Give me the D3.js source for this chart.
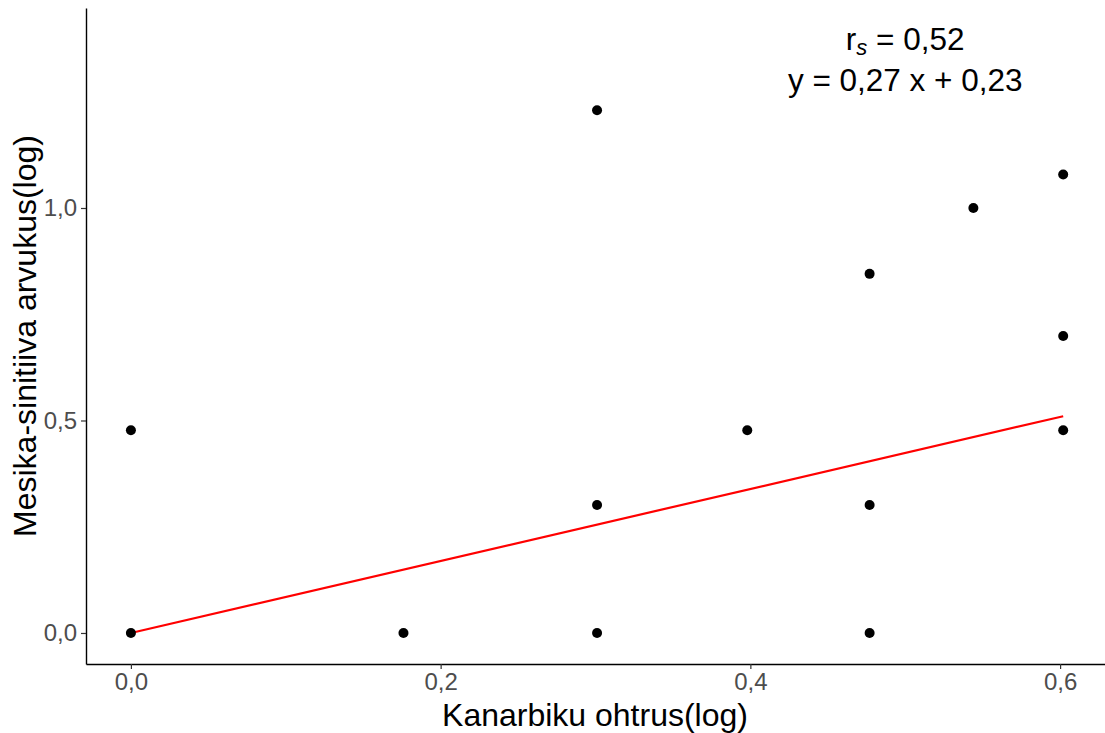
<!DOCTYPE html>
<html>
<head>
<meta charset="utf-8">
<script src="https://cdn.jsdelivr.net/npm/d3@7"></script>
<style>
  body { margin: 0; background: #fff; }
  svg { display: block; font-family: "Liberation Sans", Arial, sans-serif; }
</style>
</head>
<body>
<svg id="chart" width="1105" height="733"></svg>
<script>
// data: log-transformed values
var kanarbik = [0, 0, 0.176, 0.301, 0.301, 0.301, 0.398, 0.477, 0.477, 0.477, 0.544, 0.602, 0.602, 0.602]
var sinitiib = [0, 0.477, 0, 0, 0.301, 1.23, 0.477, 0, 0.301, 0.845, 1.0, 0.477, 0.699, 1.079]

// fitted line as drawn (ends)
var fitX = [0, 0.602]
var fitY = [0, 0.51]

var xTicks = [0, 0.2, 0.4, 0.6]
var yTicks = [0, 0.5, 1.0]

var fmt = function(d) { return d3.format(".1f")(d).replace(".", ",") }

var svg = d3.select("#chart")

var x = d3.scaleLinear().domain([-0.029, 0.629]).range([86, 1105])
var y = d3.scaleLinear().domain([-0.073, 1.4706]).range([664, 8])

// axes
var xAxis = svg.append("g").attr("transform", "translate(0,664)")
  .call(d3.axisBottom(x).tickValues(xTicks).tickFormat(fmt).tickSize(5).tickPadding(4).tickSizeOuter(0))
var yAxis = svg.append("g").attr("transform", "translate(86,0)")
  .call(d3.axisLeft(y).tickValues(yTicks).tickFormat(fmt).tickSize(5).tickPadding(4).tickSizeOuter(0))

svg.selectAll(".domain").attr("stroke", "#000").attr("stroke-width", 1.4)
svg.selectAll(".tick line").attr("stroke", "#333").attr("stroke-width", 1.2)
svg.selectAll(".tick text").attr("fill", "#4d4d4d").style("font-size", "24px")
  .style("font-family", "Liberation Sans, Arial, sans-serif")
xAxis.selectAll(".tick text").attr("dy", "0.71em")

// regression line
svg.append("line")
  .attr("x1", x(fitX[0])).attr("y1", y(fitY[0]))
  .attr("x2", x(fitX[1])).attr("y2", y(fitY[1]))
  .attr("stroke", "red").attr("stroke-width", 2.2)

// points
svg.selectAll("circle.pt").data(kanarbik).enter().append("circle")
  .attr("class", "pt")
  .attr("cx", function(d) { return x(d) })
  .attr("cy", function(d, i) { return y(sinitiib[i]) })
  .attr("r", 5)
  .style("fill", "black")

// axis titles
svg.append("text").attr("x", 595).attr("y", 726).attr("text-anchor", "middle")
  .style("font-size", "32px").text("Kanarbiku ohtrus(log)")
svg.append("text").attr("transform", "translate(36,336) rotate(-90)").attr("text-anchor", "middle")
  .style("font-size", "32px").text("Mesika-sinitiiva arvukus(log)")

// annotation
var t1 = svg.append("text").attr("x", x(0.5)).attr("y", 50).attr("text-anchor", "middle").style("font-size", "31.5px")
t1.append("tspan").text("r")
t1.append("tspan").attr("dy", 5).style("font-size", "22px").style("font-style", "italic").text("s")
t1.append("tspan").attr("dy", -5).text(" = 0,52")
svg.append("text").attr("x", x(0.5)).attr("y", 91).attr("text-anchor", "middle").style("font-size", "31.5px")
  .text("y = 0,27 x + 0,23")
</script>
</body>
</html>
